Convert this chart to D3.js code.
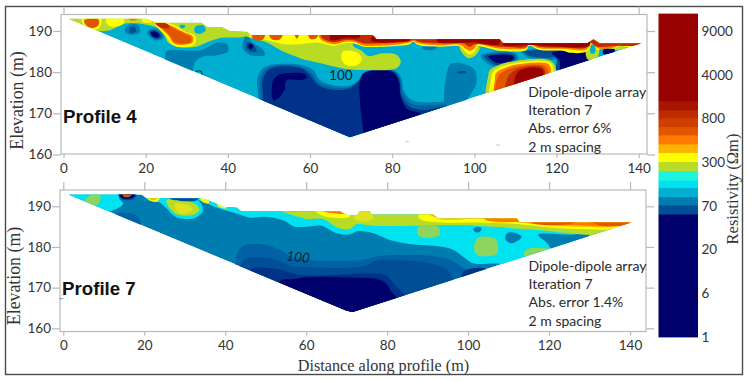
<!DOCTYPE html>
<html>
<head>
<meta charset="utf-8">
<script src="https://cdn.jsdelivr.net/npm/d3@7"></script>
<style>
  html, body { margin: 0; padding: 0; background: #fff; }
  svg { display: block; }
</style>
</head>
<body>
<div id="chart"></div>
<script>
// Tick labels
const distanceTicks = [0, 20, 40, 60, 80, 100, 120, 140];
const elevationTicks = [160, 170, 180, 190];
const barTicks = [1, 6, 20, 70, 300, 800, 4000, 9000];

// Colour bar: band edges in ohm-m, one colour per band (bottom to top)
const barEdges = [1, 60.7, 74.7, 118, 168, 206, 255, 306, 409, 508, 611, 706, 837, 1422, 2103, 11000];
const levelColors = [
  "#00006c", "#004f96", "#007db0", "#00aecf", "#00e2f0", "#1ff5dc", "#b8dc28", "#ffff00",
  "#ffb400", "#ff7800", "#e25400", "#cf3f00", "#bf2b00", "#a81500", "#990000",
  // in-between shades that only show in the sections
  "#8cd65e", "#0062a4", "#00308a", "#dde31c"
];

// Section outlines [distance, elevation]
const profile4Outline = [[1.2,193],[20,193],[22.7,192],[33.6,192],[35,191],[38.5,191],[40.5,190],[44.6,189.8],[45.8,189],[75.3,189],[76.2,188],[106.2,188],[107,187],[127.5,187],[129,188],[130.5,187],[140.7,187],[69.7,164.2]];
const profile7Outline = [[1.2,192.9],[19.3,192.9],[20.6,192],[34.2,192],[37.9,190.7],[39.5,189.9],[42.8,189.7],[44,188.8],[68.3,188.8],[69.8,187.9],[72.4,187.7],[73.3,188.8],[75.7,188.8],[76.1,188],[91.4,188],[92.6,187],[112,187],[112.8,186],[140.3,186],[71.5,164],[70,164.3]];

const profile4Regions = [
  [2, [[24.7,183.3],[25.1,185.1],[33.2,185.3],[37.3,187.1],[39.7,186.9],[40.1,185.1],[37.3,184.1],[34,183.8],[32,182.5],[31.4,180.2],[30,178.4],[23.5,178.4]]],
  [2, [[47.4,173.7],[47.2,178.5],[48.6,181],[51.5,181.9],[57.6,181.8],[60.8,180.5],[62.4,178.1],[66.5,176.7],[70.1,176.9],[71.8,178.1],[73.4,180.1],[80.3,180.5],[82.1,178.9],[82.9,175.3],[85.1,173.1],[92,172.8],[98,173.5],[100,168],[85,160],[47.4,160]]],
  [2, [[93.6,181],[94.4,182.1],[97.7,181.9],[100.1,180.5],[100.5,177.3],[99.3,174.9],[97.7,172.8],[93.2,171.2]]],
  [1, [[95.8,180.1],[97.9,180.2],[97.9,179.8],[95.8,179.8]]],
  [16, [[48,173.6],[47.9,178.1],[49.2,180.7],[51.7,181.6],[57.6,181.4],[60,180.1],[62.2,177.4],[66,176.2],[69.9,176.5],[72,178.1],[73.4,179.9],[80.3,180.3],[81.9,178.5],[82.6,174.7],[84.6,172.4],[88,171.9],[94,171.5],[94,160],[48,160]]],
  [17, [[48.6,173.6],[48.5,178.1],[49.9,180.5],[51.9,181.3],[57.6,181],[59.6,179.7],[62,176.9],[65.7,175.7],[69.7,176.1],[72.2,178.1],[73.4,179.7],[80.3,180.1],[81.7,178.1],[82.3,174.1],[84.2,171.6],[87.6,170.8],[94,171.2],[94,160],[48.6,160]]],
  [0, [[73,163],[73,165.2],[72.2,172.4],[72.2,178.1],[73.4,179.9],[79.9,180.1],[81.5,178.1],[82.1,174.1],[83.5,171.2],[86.8,170],[87.6,168.4],[77.8,162.7]]],
  [0, [[51.1,173.2],[50.9,177.7],[52.3,179.3],[58.8,179.5],[59.2,178.7],[58,178.1],[54.3,178],[53.8,175.7],[52.3,173.7]]],
  // top left, green cover with warm lenses
  [6, [[0.8,193.4],[49.4,193.4],[49.4,189.6],[45.4,189.1],[43.4,188.5],[38.1,188.3],[34.8,187.2],[32,186.1],[27.5,186.3],[25.5,187.2],[23.9,190.2],[18.6,191.8],[15,191.8],[11.3,190.2],[7.7,190],[3.2,191.4]]],
  [3, [[32,191],[34,191.4],[34.6,190.2],[33.2,189.3],[32,189.7]]],
  [3, [[28.3,191.4],[29.6,191.4],[29.3,190.7],[28.5,190.7]]],
  [2, [[15,190.6],[15.8,191.4],[18.2,191.4],[18.6,189.7],[16.6,189.1],[15.2,189.6]]],
  [1, [[16,190.8],[17.4,190.9],[17.6,189.9],[16.3,189.6]]],
  [2, [[20.4,189.7],[21.9,190.6],[23.9,189.6],[24.3,188.3],[22.7,187.7],[21.1,188.5]]],
  [1, [[20.9,189.7],[22,190.3],[23.6,189.3],[23.7,188.5],[22.5,188.1],[21.3,188.8]]],
  [0, [[21.2,189.6],[22.3,189.9],[23.3,189.1],[23.3,188.6],[22.3,188.4],[21.4,189]]],
  [2, [[44.7,189],[45.8,187.4],[48.6,185.4],[49,184.2],[45.4,184.2],[43.6,185.8],[43.9,187.8]]],
  [1, [[45,187.4],[46.6,186.2],[47,185],[45.4,185],[44.4,186.2]]],
  [0, [[45.4,187],[46.2,186.2],[45.5,185.5],[45,186.2]]],
  [7, [[4.4,193.4],[9.1,193.4],[8.7,190.7],[6.9,190.2],[5.2,191]]],
  [10, [[5,192.6],[8.5,192.8],[8.5,191.4],[6.9,190.7],[5.5,191.4]]],
  [7, [[10.5,193.4],[14.6,193.4],[14.6,191.8],[12.1,191],[10.5,191.8]]],
  [9, [[15.8,193.4],[18,193.4],[17.6,192.6],[16.2,192.6]]],
  [7, [[19,193.4],[21.9,193.4],[21.5,192.2],[19.4,192.2]]],
  [7, [[21.9,192.2],[25.9,191.8],[30,189.7],[32,188.9],[32,186.9],[30,186.1],[26.7,186.5],[25.1,188.5],[23.1,190.6]]],
  [9, [[22.1,192],[25.5,191.6],[29.6,189.6],[31.4,188.8],[31.4,187.2],[29.6,186.7],[27,186.9],[25.5,188.9],[23.5,190.8]]],
  [10, [[22.3,191.8],[25.3,191.4],[27.1,190.4],[29.6,189.3],[31,188.5],[31,187.3],[29.2,186.9],[27.1,187.3],[25.8,189.1],[23.9,190.8]]],
  [12, [[22.5,191.8],[25.1,191.8],[25.8,190.8],[23.9,190.7]]],
  // middle green tongue
  [6, [[43.8,189],[70.5,189],[70.5,186.4],[72.6,185.2],[74.2,183.9],[77.8,184.6],[81.1,184.2],[82.1,182.6],[81.1,181],[73.4,180.5],[68.1,180.9],[62.4,182.2],[57.6,183.4],[53.5,185],[49.5,187.2],[46.2,188.2]]],
  [7, [[68,185],[69.7,185.2],[71.8,184.6],[72.6,183],[71.4,181.7],[68.9,181.7],[67.7,183]]],
  [2, [[87.2,186],[90.8,186],[90.4,185.5],[87.6,185.5]]],
  // right side, conductive pockets under the surface band
  [2, [[101.7,184.2],[109.8,184.7],[110.7,183.4],[108.2,181.7],[105,181.3],[102.5,182.6]]],
  [1, [[102.5,183.9],[109.4,184.4],[110.1,183.4],[108.2,182.1],[105.4,181.7],[103.4,182.8]]],
  [0, [[103.4,183.8],[109,184.1],[109.6,183.4],[108.2,182.5],[105.5,182.2],[104.2,183]]],
  [2, [[111.5,185],[119.2,185.2],[120,183.4],[118.4,183],[113.1,183.6]]],
  [1, [[112.3,184.9],[118.8,185],[119.2,183.8],[113.5,183.9]]],
  [1, [[118,185],[127.7,185.4],[128.5,183.4],[126,180],[120,178],[119.6,180],[120,183]]],
  [0, [[118.8,184.6],[127.3,184.9],[128.1,183.4],[126,180],[121,178],[120.8,180],[120.6,183]]],
  [0, [[131.3,184.4],[131.7,185.8],[133.8,186],[134.2,185],[132.6,184.4]]],
  // resistive lens at 105-120 m, the bottom points run past the section edge
  [6, [[103.4,172],[103.4,179.3],[103.8,180.5],[105.8,181.7],[110.3,182.8],[118,183],[119.6,181.7],[120,179.7],[121,176]]],
  [7, [[104.2,172],[104.2,178.9],[104.6,180.1],[106.2,181.2],[110.4,182.3],[117.7,182.6],[119,181.7],[119.3,179.3],[120,176]]],
  [9, [[105,172],[105,178.1],[105.2,179.6],[106.6,180.7],[110.7,181.9],[117.4,182.2],[118.4,181.5],[118.8,179.3],[119.5,176]]],
  [10, [[105.6,172],[105.6,178.5],[107,180.1],[111.1,181.5],[116.7,181.7],[117.7,180.9],[118.2,178.9],[119,176]]],
  [12, [[107.8,172],[108.2,178.9],[109.8,180.4],[111.9,181.2],[116.3,181.3],[117.1,180.5],[117.5,178.5],[118,176]]],
  [14, [[110,172],[110.3,179.7],[112.3,180.9],[115.9,181],[116.7,180.4],[116.9,178.1],[117,175]]],
  // surface band
  [6, [[96.5,186.2],[97.1,184.6],[98.5,183.4],[100.1,183.9],[101.3,186]]],
  [6, [[127.1,185],[127.7,183],[129.7,183.4],[130.4,185.4],[128.7,187.5]]],
  [3, [[128.5,186.6],[128.3,184.6],[129.3,184.6],[129.3,186.6]]],
  [6, [[134.2,185.4],[135,186.6],[136,186.8],[137,185.8]]],
  [7, [[45.4,188.6],[49.5,187.8],[53.5,186.8],[57.6,186.8],[61.6,187.2],[65.7,186.4],[68.5,187],[70.5,187],[73,186.2],[77.8,186.2],[81.9,186.4],[84.3,186.8],[85.1,187.4],[86.4,186.6],[91.6,186.2],[95.7,186.4],[96.9,186],[97.7,185],[98.9,184.3],[100.1,185],[100.7,186.2],[106.2,185.2],[112.7,185.4],[113.3,186.4],[115.9,185.4],[121.6,185.2],[123.2,184.7],[127.3,185],[128.3,186.6],[128.7,187.4],[129.3,186.6],[129.9,185.4],[131.3,185.8],[134.6,185.8],[135.8,187],[136.6,186.2],[140.3,186.2],[142,188],[142,190],[45.4,190]]],
  [10, [[45.8,190],[49.1,190],[48.6,188],[47.4,187.7],[46.2,188]]],
  [10, [[49.9,190],[53.5,190],[52.7,188],[50.7,188]]],
  [10, [[56.1,190],[57.4,190],[56.8,188.1]]],
  [10, [[59.6,190],[62,190],[61.6,188.3],[60,188.1]]],
  [9, [[62.4,190],[62.4,188.2],[65.7,186.8],[68.5,187.4],[70.5,187.4],[73,186.5],[77.8,186.5],[81.9,186.8],[84.3,187.2],[85.1,187.6],[86.4,187],[91.6,186.5],[95.7,186.8],[96.9,186.5],[97.7,185.8],[98.9,185.2],[100.1,185.8],[100.7,186.7],[106.2,185.7],[112.7,185.9],[113.3,186.7],[115.9,185.8],[121.6,185.7],[127.3,185.5],[128.3,187],[128.7,187.8],[129.3,187],[129.9,185.9],[134.6,186.2],[135.8,187.3],[136.6,186.6],[140.3,186.6],[142,189],[142,190]]],
  [12, [[62.8,190],[62.8,188.5],[65.7,187.3],[68.5,187.8],[70.5,187.8],[73,187],[77.8,187],[81.9,187.2],[84.3,187.6],[85.5,187.8],[86.4,187.4],[91.6,187],[95.2,187.2],[97.3,187],[98.9,186.2],[100.1,186.8],[106.2,186.2],[112.7,186.2],[113.3,187],[115.9,186.2],[121.6,186],[127.3,186],[128.1,187.2],[129.9,186.2],[134.6,186.4],[140.3,186.8],[142,190]]],
  [14, [[107,186.6],[113,186.6],[116,186.5],[128,186.4],[128,187.5],[107,187.5]]],
  [14, [[75,187.5],[82,187.4],[84,187.6],[85,188.5],[75,188.5]]],
  [14, [[91,187.4],[100,187.2],[106,186.8],[106,188.5],[91,188.5]]],
  [14, [[65,187.8],[68,188.2],[72,188.4],[72,189.2],[65,189.2]]]
];

const profile7Regions = [
  // deep conductive layers
  [16, [[42.4,175.6],[43.6,179.7],[46.1,180.7],[50.2,180.5],[53.5,179.3],[56.4,177.6],[60.9,176.8],[73.3,176.8],[77,177.6],[81.5,178],[94.7,177.2],[98.8,174.8],[103.7,171.9],[103.7,160],[42.4,160]]],
  [1, [[44,176],[46.1,177.4],[51,177.2],[54.3,176.2],[56.8,175.3],[74.9,175.4],[77,176.6],[85.6,176.6],[90.5,176],[94.7,174.4],[96.3,171.9],[96.3,160],[44,160]]],
  [17, [[46.1,174.3],[52.7,174.6],[56.8,173.5],[60.1,173],[77.4,173.5],[79.8,173],[82.3,170.2],[84.4,168],[84.4,162],[46.1,162]]],
  [17, [[98.4,172.5],[99.2,174.2],[104.5,174.5],[104,172]]],
  [0, [[53.5,171.5],[56.8,172.1],[60.9,172.6],[70.8,172.5],[77.4,172.1],[79.7,171.1],[81.1,168.9],[82.7,167],[82.7,162],[53.5,162]]],
  [16, [[12.8,187.9],[16,188.4],[18.5,187.4],[19,185.4],[13,185]]],
  // cyan layer on top
  [4, [[0.8,193.3],[13.8,193.3],[13.8,192],[14.8,190.6],[10.7,188.6],[7.4,189.9]]],
  [4, [[19.4,193.2],[19.8,192.8],[21,191.5],[23.9,190.9],[25.5,189.5],[26.8,188.1],[28.4,187.1],[32.5,187.1],[34.4,188.7],[34.2,190.5],[33.3,191.5],[35.4,190.7],[37.9,189.7],[40.3,188.9],[43.2,188.1],[46.1,187.2],[49.4,187.4],[54.3,186.6],[57.2,185],[60.1,185],[63.8,185.2],[67.5,183.4],[70.8,183.1],[72.9,183.9],[76.6,183.4],[80.7,181.7],[85.6,180.7],[93,180.1],[96.3,179.3],[98.8,177.6],[101.2,176],[108.6,175.7],[115,172],[145,185],[145,194]]],
  [2, [[117.3,183],[125,183],[130,183.2],[122,178],[119.5,181]]],
  [2, [[101.2,184.4],[102.3,185],[103.3,184.6],[103,183.8],[101.9,183.6]]],
  [2, [[109.2,182.5],[109.9,183.5],[111.9,183.4],[113.2,182.5],[112.3,181.5],[110.7,180.9],[109.5,181.5]]],
  [15, [[101.6,180.9],[102.5,182.3],[106.2,182.3],[107.2,181.3],[107.2,178.4],[106.2,177.9],[102.5,177.9],[101.6,178.9]]],
  [15, [[113.7,178],[114.8,179.5],[119.3,179.7],[121,179.3],[121,177]]],
  // left lenses
  [15, [[5.4,191.5],[7,192.8],[9.1,192.8],[8.9,190.9],[7.4,190.2],[6.2,190.6]]],
  [1, [[13.6,193.3],[18,193.3],[17.7,192],[15.6,191.5],[14,192]]],
  [0, [[13.8,193.3],[17.7,193.3],[17.3,192.2],[15.6,191.8],[14.2,192.2]]],
  [10, [[14.6,193.3],[17.1,193.3],[16.5,192.4],[15.4,192.2],[14.8,192.5]]],
  [6, [[25.5,191.4],[29.6,191.5],[33,190.3],[33.6,189.1],[32.1,187.9],[28.4,187.9],[26.8,188.9]]],
  [18, [[27.6,190.6],[30.9,190.3],[32,189.1],[30.5,188.3],[28.4,188.4]]],
  [7, [[20.7,192.2],[23.9,192.2],[23.1,191.1],[21.4,191.4]]],
  [8, [[21.2,192.2],[23.5,192.2],[22.6,191.5],[21.6,191.7]]],
  [1, [[26,192.3],[33.4,192.3],[33,191.5],[27,191.6]]],
  [7, [[33.6,192.2],[35.5,192],[36,190.8],[34.5,191]]],
  [7, [[37.8,191],[40,190.2],[40.4,189.5],[38.4,189.9]]],
  // surface layers
  [6, [[53.5,189.1],[56.4,187.9],[60.1,186.9],[64.2,186.9],[67.9,184.7],[70.8,184.4],[72.4,185.6],[76.5,185.2],[87.2,185.2],[95.5,185.4],[102.1,185.2],[117.7,184.1],[129.2,183],[133.3,183.1],[139,185.4],[145,188],[145,190],[53.5,190]]],
  [15, [[87.7,185],[92.6,185],[93,183],[91.8,182.4],[88.5,182.4],[87.5,183.1]]],
  [18, [[72,188.5],[76,188.5],[76.5,187],[74,186.2],[72,186.8]]],
  [7, [[61.7,189.4],[70.4,189.4],[70.8,187.5],[66.7,187.2],[63.4,188]]],
  [9, [[63.8,189.3],[69.6,189.3],[70,188.3],[66.7,188.3],[64.2,188.8]]],
  [7, [[88,187],[93,186],[102.1,186],[112.8,185.6],[120.2,184.8],[128.4,184.4],[135.8,184.4],[141,186],[141,189],[88,189]]],
  [8, [[90,188.5],[93,186.9],[103.7,186.9],[107,186.1],[112.8,186.1],[120.2,185.2],[128.4,185],[136.6,185],[140.3,186],[141,189]]],
  [9, [[104.1,186.9],[107.8,186.2],[113.2,186.1],[116,185.8],[125.9,185.4],[136.6,185.2],[140.3,186],[141,189],[104,189]]],
  [10, [[115.6,186.1],[120.2,185.4],[124.7,185.6],[126.7,186.1],[130,186.1],[133.3,185.2],[137,185.2],[139.9,185.8],[141,188],[115.6,188]]]
];

// Small contour label leftovers and scan specks [distance, elevation]
const profile4Contours = [[32.9, 179.5]];
const profile4Specks = [[83.6, 163.1], [105.8, 162.3], [130.4, 161.4]];
const profile7Specks = [[-0.5, 167.3]];

// Annotation text
const profile4Notes = ["Dipole-dipole array", "Iteration 7", "Abs. error 6%", "2 m spacing"];
const profile7Notes = ["Dipole-dipole array", "Iteration 7", "Abs. error 1.4%", "2 m spacing"];

const width = 751;
const height = 381;
const serif = "'Liberation Serif', serif";
const sans = "Lato, 'Open Sans', sans-serif";
const bold = "'Liberation Sans', Arial, sans-serif";

const svg = d3.select("#chart").append("svg")
  .attr("width", width)
  .attr("height", height)
  .attr("viewBox", `0 0 ${width} ${height}`);

// soften the edges a little, the original is a scaled raster
svg.append("defs").append("filter")
  .attr("id", "soft")
  .append("feGaussianBlur")
  .attr("stdDeviation", 0.55);

// Outer frame
svg.append("rect")
  .attr("x", 5.5).attr("y", 6.5)
  .attr("width", 737).attr("height", 368)
  .attr("fill", "none")
  .attr("stroke", "#4a4a4a")
  .attr("stroke-width", 1.4);

function drawProfile(p) {
  const x = d3.scaleLinear().domain([0, 140]).range(p.xRange);
  const y = d3.scaleLinear().domain([160, 190]).range(p.yRange);
  const g = svg.append("g");

  const outlinePath = d3.line().x((d) => x(d[0])).y((d) => y(d[1])).curve(d3.curveLinearClosed);
  const regionPath = d3.line().x((d) => x(d[0])).y((d) => y(d[1])).curve(d3.curveCatmullRomClosed.alpha(0.5));

  g.append("clipPath")
    .attr("id", p.id + "-clip")
    .append("path")
    .attr("d", outlinePath(p.outline));

  // Axis box
  g.append("rect")
    .attr("x", p.box[0]).attr("y", p.box[1])
    .attr("width", p.box[2] - p.box[0]).attr("height", p.box[3] - p.box[1])
    .attr("fill", "#fff")
    .attr("stroke", "#b9b9b9")
    .attr("stroke-width", 1.2);

  // Axes, ticks run out on all four sides
  const styleAxis = (sel) => {
    sel.select(".domain").remove();
    sel.selectAll("line").attr("stroke", "#b9b9b9").attr("stroke-width", 1.2);
    sel.selectAll("text")
      .attr("fill", "#333")
      .attr("font-family", sans)
      .attr("font-size", 13.5);
  };

  g.append("g")
    .attr("transform", `translate(0,${p.box[3]})`)
    .call(d3.axisBottom(x).tickValues(distanceTicks).tickSize(4).tickPadding(5).tickFormat(d3.format("d")))
    .call(styleAxis);
  g.append("g")
    .attr("transform", `translate(0,${p.box[1]})`)
    .call(d3.axisTop(x).tickValues(distanceTicks).tickSize(p.topTick).tickFormat(""))
    .call(styleAxis);
  g.append("g")
    .attr("transform", `translate(${p.box[0]},0)`)
    .call(d3.axisLeft(y).tickValues(elevationTicks).tickSize(8).tickPadding(1).tickFormat(d3.format("d")))
    .call(styleAxis);
  g.append("g")
    .attr("transform", `translate(${p.box[2]},0)`)
    .call(d3.axisRight(y).tickValues(elevationTicks).tickSize(8).tickFormat(""))
    .call(styleAxis);

  // Section
  const section = g.append("g")
    .attr("filter", "url(#soft)")
    .append("g")
    .attr("clip-path", `url(#${p.id}-clip)`);

  section.append("path")
    .attr("d", outlinePath(p.outline))
    .attr("fill", levelColors[p.baseLevel]);

  section.selectAll(".region")
    .data(p.regions)
    .enter()
    .append("path")
    .attr("class", "region")
    .attr("d", (d) => regionPath(d[1]))
    .attr("fill", (d) => levelColors[d[0]]);

  section.selectAll(".contour")
    .data(p.contours || [])
    .enter()
    .append("circle")
    .attr("class", "contour")
    .attr("cx", (d) => x(d[0]))
    .attr("cy", (d) => y(d[1]))
    .attr("r", 3.6)
    .attr("fill", "none")
    .attr("stroke", "#1a2a3a")
    .attr("stroke-width", 0.9);

  g.selectAll(".speck")
    .data(p.specks)
    .enter()
    .append("line")
    .attr("class", "speck")
    .attr("x1", (d) => x(d[0]) - 2).attr("x2", (d) => x(d[0]) + 2)
    .attr("y1", (d) => y(d[1])).attr("y2", (d) => y(d[1]))
    .attr("stroke", p.speckColor)
    .attr("stroke-width", 0.8);

  // Contour label
  const c = p.label;
  g.append("text")
    .attr("transform", `translate(${x(c.d)},${y(c.z)}) rotate(${c.angle})`)
    .attr("text-anchor", "middle")
    .attr("dy", "0.36em")
    .attr("font-family", sans)
    .attr("font-size", 13.5)
    .attr("font-style", c.italic ? "italic" : "normal")
    .attr("fill", "#101c30")
    .text("100");

  // Profile title
  g.append("text")
    .attr("x", p.titlePos[0]).attr("y", p.titlePos[1])
    .attr("font-family", bold)
    .attr("font-weight", 700)
    .attr("font-size", 18.7)
    .attr("fill", "#111")
    .text(p.title);

  // Notes block
  g.selectAll(".note")
    .data(p.notes)
    .enter()
    .append("text")
    .attr("class", "note")
    .attr("x", p.notesX)
    .attr("y", (d, i) => p.notesY + i * 18.2)
    .attr("dy", "0.35em")
    .attr("font-family", sans)
    .attr("font-size", 14)
    .attr("fill", "#2b2b2b")
    .text((d) => d);

  // Elevation label
  g.append("text")
    .attr("transform", `translate(${p.yLabel[0]},${p.yLabel[1]}) rotate(-90)`)
    .attr("text-anchor", "middle")
    .attr("font-family", serif)
    .attr("font-size", 17.8)
    .attr("fill", "#333")
    .text("Elevation (m)");
}

drawProfile({
  id: "p4",
  title: "Profile 4",
  titlePos: [63, 122.7],
  xRange: [63.5, 638.7],
  yRange: [154.5, 31],
  box: [61, 14.5, 647, 154],
  topTick: 8,
  baseLevel: 3,
  outline: profile4Outline,
  regions: profile4Regions,
  contours: profile4Contours,
  specks: profile4Specks,
  speckColor: "#bbb",
  label: { d: 67.5, z: 179.2, angle: 0, italic: false },
  notes: profile4Notes,
  notesX: 528.3,
  notesY: 92,
  yLabel: [23, 100.5]
});

drawProfile({
  id: "p7",
  title: "Profile 7",
  titlePos: [62, 295],
  xRange: [63.3, 630],
  yRange: [328.3, 206.3],
  box: [60, 190, 646, 331.5],
  topTick: 8,
  baseLevel: 2,
  outline: profile7Outline,
  regions: profile7Regions,
  specks: profile7Specks,
  speckColor: "#3d8fa8",
  label: { d: 58, z: 177.6, angle: 6, italic: true },
  notes: profile7Notes,
  notesX: 528.6,
  notesY: 266,
  yLabel: [19.5, 276]
});

// Shared distance label
svg.append("text")
  .attr("x", 383.5)
  .attr("y", 371)
  .attr("text-anchor", "middle")
  .attr("font-family", serif)
  .attr("font-size", 16.2)
  .attr("fill", "#333")
  .text("Distance along profile (m)");

// Colour bar, positions follow the unevenly spaced labels
const barScale = d3.scaleLinear()
  .domain(barTicks)
  .range([337, 293.3, 249.6, 205.9, 162.2, 118.5, 74.8, 31.1]);

const barBands = d3.pairs(barEdges);
svg.selectAll(".band")
  .data(barBands)
  .enter()
  .append("rect")
  .attr("class", "band")
  .attr("x", 658.5)
  .attr("width", 39.5)
  .attr("y", (d) => barScale(d[1]))
  .attr("height", (d) => barScale(d[0]) - barScale(d[1]) + 0.4)
  .attr("fill", (d, i) => levelColors[i]);

svg.selectAll(".bar-label")
  .data(barTicks)
  .enter()
  .append("text")
  .attr("class", "bar-label")
  .attr("x", 701.5)
  .attr("y", (d) => barScale(d))
  .attr("dy", "0.35em")
  .attr("font-family", sans)
  .attr("font-size", 13.5)
  .attr("fill", "#333")
  .text((d) => d);

svg.append("text")
  .attr("transform", "translate(738,189) rotate(-90)")
  .attr("text-anchor", "middle")
  .attr("font-family", serif)
  .attr("font-size", 16.5)
  .attr("fill", "#333")
  .text("Resistivity (Ωm)");
</script>
</body>
</html>
